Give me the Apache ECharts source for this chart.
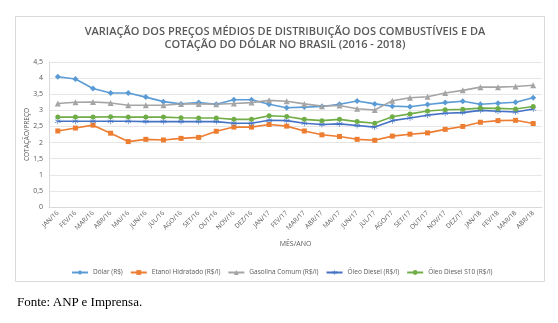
<!DOCTYPE html>
<html>
<head>
<meta charset="utf-8">
<script src="https://cdn.jsdelivr.net/npm/echarts@6/dist/echarts.min.js"></script>
<style>
  html, body { margin: 0; padding: 0; background: #fff; }
  #wrap { position: relative; width: 558px; height: 323px; }
  #chart { position: absolute; left: 0; top: 0; width: 558px; height: 323px; }
  #fonte { position: absolute; left: 17px; top: 294px; font-family: "Liberation Serif", serif; font-size: 13px; color: #000; }
</style>
</head>
<body>
<div id="wrap">
  <div id="chart"></div>
  <div id="fonte">Fonte: ANP e Imprensa.</div>
</div>
<script>
// meses
const months = ["JAN/16","FEV/16","MAR/16","ABR/16","MAI/16","JUN/16","JUL/16","AGO/16","SET/16","OUT/16","NOV/16","DEZ/16",
  "JAN/17","FEV/17","MAR/17","ABR/17","MAI/17","JUN/17","JUL/17","AGO/17","SET/17","OUT/17","NOV/17","DEZ/17",
  "JAN/18","FEV/18","MAR/18","ABR/18"];

const dolar = [4.04,3.97,3.68,3.54,3.54,3.41,3.27,3.20,3.24,3.19,3.33,3.33,3.19,3.08,3.10,3.12,3.19,3.29,3.20,3.13,3.11,3.18,3.24,3.28,3.19,3.22,3.25,3.39];
const etanol = [2.36,2.45,2.54,2.29,2.03,2.10,2.08,2.13,2.16,2.35,2.48,2.48,2.56,2.51,2.36,2.24,2.19,2.10,2.07,2.20,2.26,2.30,2.41,2.50,2.63,2.68,2.69,2.59];
const gasolina = [3.21,3.25,3.26,3.23,3.16,3.16,3.16,3.20,3.20,3.19,3.21,3.24,3.31,3.28,3.20,3.13,3.15,3.05,3.01,3.30,3.39,3.42,3.54,3.62,3.72,3.72,3.74,3.78];
const diesel = [2.66,2.66,2.66,2.66,2.66,2.65,2.65,2.65,2.65,2.65,2.60,2.60,2.69,2.68,2.60,2.56,2.58,2.53,2.48,2.68,2.76,2.85,2.91,2.93,3.00,2.97,2.95,3.04];
const dieselS10 = [2.79,2.79,2.79,2.80,2.79,2.79,2.79,2.77,2.76,2.76,2.72,2.72,2.83,2.81,2.72,2.68,2.72,2.65,2.60,2.80,2.89,2.98,3.02,3.03,3.07,3.06,3.04,3.12];

const txt = "#595959";
const font = "Open Sans";
// asterisco (3 barras finas)
const asterisk = "path://M-0.5,-5L0.5,-5L0.5,5L-0.5,5Z" +
  "M4.08,2.93L4.58,2.07L-4.08,-2.93L-4.58,-2.07Z" +
  "M4.58,-2.07L4.08,-2.93L-4.58,2.07L-4.08,2.93Z";

function serie(name, data, color, symbol, size) {
  return {
    name: name,
    type: "line",
    data: data,
    symbol: symbol,
    symbolSize: size,
    lineStyle: { color: color, width: 1.6 },
    itemStyle: { color: color },
    animation: false
  };
}

const chart = echarts.init(document.getElementById("chart"));
chart.setOption({
  backgroundColor: "#fff",
  textStyle: { fontFamily: font },
  title: {
    text: "VARIAÇÃO DOS PREÇOS MÉDIOS DE DISTRIBUIÇÃO DOS COMBUSTÍVEIS E DA\nCOTAÇÃO DO DÓLAR NO BRASIL (2016 - 2018)",
    left: 280,
    top: 21,
    textAlign: "center",
    textStyle: { fontSize: 11, fontWeight: 600, color: txt, lineHeight: 12.5, fontFamily: font }
  },
  graphic: [{
    type: "rect",
    shape: { x: 15.5, y: 16.5, width: 529, height: 265 },
    style: { fill: null, stroke: "#d9d9d9", lineWidth: 1 },
    silent: true
  }],
  legend: {
    left: 66,
    top: 264,
    width: 470,
    itemWidth: 16,
    itemHeight: 6,
    itemGap: 7,
    textStyle: { fontSize: 6.5, color: txt, fontFamily: font },
    data: ["Dólar (R$)","Etanol Hidratado (R$/l)","Gasolina Comum (R$/l)","Óleo Diesel (R$/l)","Óleo Diesel S10 (R$/l)"]
  },
  grid: { left: 49, right: 16, top: 62, bottom: 116, containLabel: false },
  xAxis: {
    type: "category",
    data: months,
    boundaryGap: true,
    name: "MÊS/ANO",
    nameLocation: "middle",
    nameGap: 33,
    nameTextStyle: { fontSize: 7, color: txt },
    axisLine: { lineStyle: { color: "#d9d9d9" } },
    axisTick: { show: false },
    axisLabel: { rotate: 45, fontSize: 6.5, color: txt, interval: 0, margin: 5 }
  },
  yAxis: {
    type: "value",
    min: 0,
    max: 4.5,
    interval: 0.5,
    name: "COTAÇÃO/PREÇO",
    nameLocation: "middle",
    nameGap: 18,
    nameMoveOverlap: false,
    nameTextStyle: { fontSize: 6.5, color: txt },
    axisLine: { show: true, lineStyle: { color: "#d9d9d9" } },
    axisTick: { show: false },
    splitLine: { lineStyle: { color: "#e6e6e6" } },
    axisLabel: { fontSize: 7, color: txt, margin: 6, formatter: v => String(v).replace(".", ",") }
  },
  series: [
    serie("Dólar (R$)", dolar, "#5B9BD5", "diamond", 6),
    serie("Etanol Hidratado (R$/l)", etanol, "#ED7D31", "rect", 5),
    serie("Gasolina Comum (R$/l)", gasolina, "#A5A5A5", "triangle", 6),
    serie("Óleo Diesel (R$/l)", diesel, "#4472C4", asterisk, 6),
    serie("Óleo Diesel S10 (R$/l)", dieselS10, "#70AD47", "circle", 5)
  ]
});
</script>
</body>
</html>
